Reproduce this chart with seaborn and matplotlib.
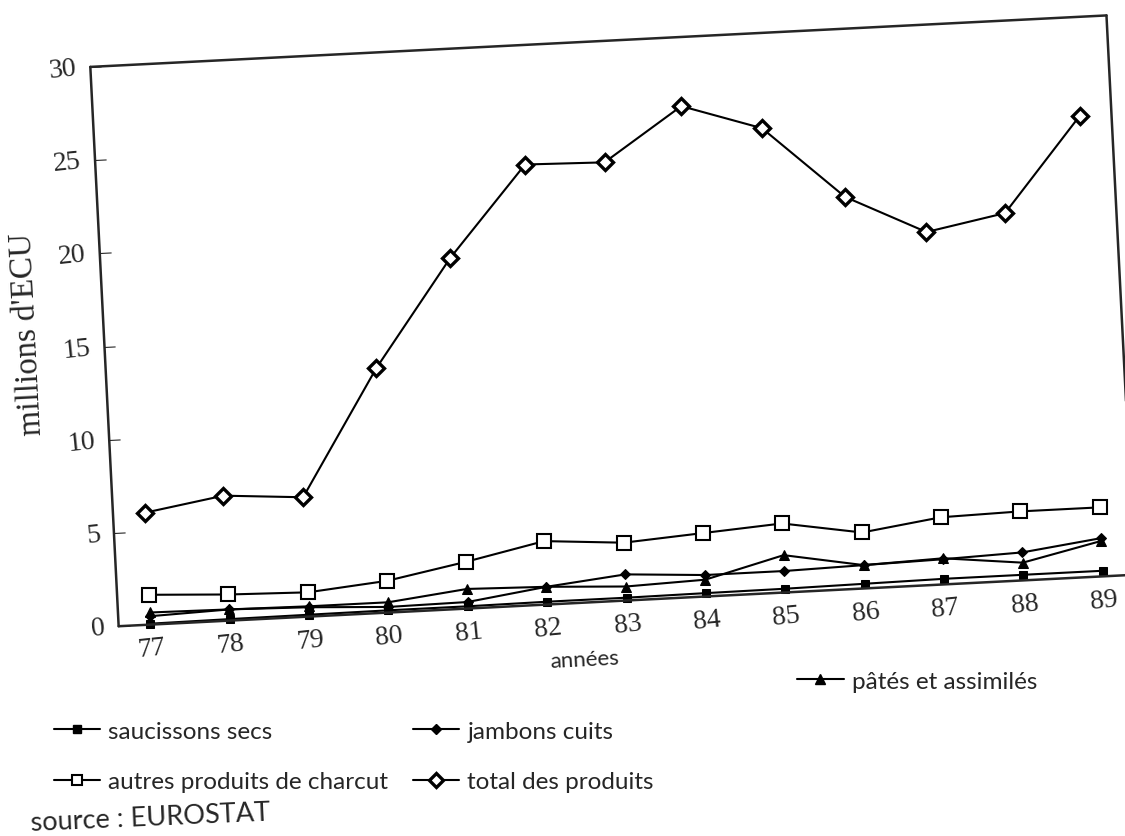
import matplotlib
matplotlib.use("Agg")
import matplotlib.pyplot as plt
import numpy as np
import pandas as pd
import seaborn as sns
from matplotlib.lines import Line2D
from matplotlib.transforms import Affine2D
from mpl_toolkits.axisartist import floating_axes
from mpl_toolkits.axisartist.grid_finder import FixedLocator, DictFormatter

# Exportations de charcuterie, millions d'ECU
annees = [77, 78, 79, 80, 81, 82, 83, 84, 85, 86, 87, 88, 89]
saucissons_secs = [0.05, 0.08, 0.1, 0.12, 0.12, 0.15, 0.15, 0.18, 0.2, 0.25, 0.3, 0.3, 0.3]
jambons_cuits = [0.45, 0.6, 0.5, 0.3, 0.35, 0.95, 1.4, 1.15, 1.15, 1.25, 1.35, 1.5, 2.05]
pates_assimiles = [0.65, 0.6, 0.55, 0.55, 1.05, 0.95, 0.75, 0.9, 2.0, 1.25, 1.4, 0.95, 1.9]
autres_produits = [1.6, 1.4, 1.3, 1.7, 2.5, 3.4, 3.1, 3.4, 3.7, 3.0, 3.6, 3.7, 3.7]
total_produits = [6.0, 6.7, 6.4, 13.1, 18.8, 23.6, 23.5, 26.3, 24.9, 21.0, 18.9, 19.7, 24.7]

y_ticks = [0, 5, 10, 15, 20, 25, 30]
x_tick_labels = [str(a) for a in annees]

labels = {
    "saucissons": "saucissons secs",
    "jambons": "jambons cuits",
    "pates": "pâtés et assimilés",
    "autres": "autres produits de charcut",
    "total": "total des produits",
}

sns.set_style("white")
plt.rcParams["font.family"] = ["Liberation Serif", "DejaVu Sans"]

fig = plt.figure(figsize=(11.25, 8.37), dpi=100)

# The plot frame is slightly tilted, as on the printed page
TILT = 2.9
tr = Affine2D().scale(79.2, 18.6).rotate_deg(TILT)
grid_helper = floating_axes.GridHelperCurveLinear(
    tr,
    extremes=(76.6, 89.4, 0, 30),
    grid_locator1=FixedLocator(annees),
    tick_formatter1=DictFormatter(dict(zip(annees, x_tick_labels))),
    grid_locator2=FixedLocator(y_ticks),
    tick_formatter2=DictFormatter({v: str(v) for v in y_ticks}),
)
ax = fig.add_axes([0.071, 0.239, 0.947, 0.753],
                  axes_class=floating_axes.FloatingAxes, grid_helper=grid_helper)
aux = ax.get_aux_axes(tr)

for name in ["left", "right", "top", "bottom"]:
    ax.axis[name].line.set_linewidth(1.8)
for name in ["right", "top"]:
    ax.axis[name].major_ticks.set_visible(False)
    ax.axis[name].major_ticklabels.set_visible(False)

ax.axis["bottom"].major_ticks.set_visible(False)
ax.axis["left"].major_ticks.set_ticksize(8)
ax.axis["left"].major_ticks.set_tick_out(False)

for name in ["left", "bottom"]:
    tl = ax.axis[name].major_ticklabels
    tl.set_fontsize(20)
    tl.set_fontfamily("Liberation Serif")
ax.axis["bottom"].major_ticklabels.set_rotation(TILT)
ax.axis["left"].major_ticklabels.set_rotation(90 + TILT)
ax.axis["left"].major_ticklabels.set_pad(10)
ax.axis["bottom"].major_ticklabels.set_pad(9)

ax.axis["left"].label.set_visible(False)
ax.axis["bottom"].label.set_visible(False)

styles = {
    "saucissons": dict(marker="s", markersize=6, markerfacecolor="black", markeredgecolor="black"),
    "jambons": dict(marker="D", markersize=5.5, markerfacecolor="black", markeredgecolor="black"),
    "pates": dict(marker="^", markersize=7.5, markerfacecolor="black", markeredgecolor="black"),
    "autres": dict(marker="s", markersize=10, markerfacecolor="white", markeredgecolor="black",
                   markeredgewidth=1.5),
    "total": dict(marker="D", markersize=8.5, markerfacecolor="white", markeredgecolor="black",
                  markeredgewidth=2.4),
}
values = {
    "saucissons": saucissons_secs,
    "jambons": jambons_cuits,
    "pates": pates_assimiles,
    "autres": autres_produits,
    "total": total_produits,
}

for key in ["saucissons", "jambons", "pates", "autres", "total"]:
    df = pd.DataFrame({"annee": annees, "valeur": values[key]})
    sns.lineplot(data=df, x="annee", y="valeur", ax=aux, color="black",
                 linewidth=1.5, legend=False, **styles[key])
aux.set_xlabel("")
aux.set_ylabel("")

# Axis titles, tilted with the frame
fig.text(28 / 1125, 1 - 334 / 837, "millions d'ECU", rotation=90 + TILT,
         fontsize=23.5, family="Liberation Serif", ha="center", va="center")
fig.text(585 / 1125, 1 - 660 / 837, "années", rotation=TILT, fontsize=16,
         family="Lato", ha="center", va="center")


def handle(key):
    st = dict(styles[key])
    if key in ("autres", "total"):
        st["markersize"] = 7.5
    return Line2D([], [], color="black", linewidth=1.5, **st)


legend_font = {"family": "Lato", "size": 17.5}
order = ["saucissons", "autres", "jambons", "total"]
fig.legend([handle(k) for k in order], [labels[k] for k in order],
           ncol=2, loc="upper left", bbox_to_anchor=(0.037, 0.152),
           frameon=False, prop=legend_font, handlelength=1.9,
           handletextpad=0.35, columnspacing=1.0, labelspacing=1.2,
           borderpad=0)
fig.legend([handle("pates")], [labels["pates"]],
           loc="upper left", bbox_to_anchor=(0.698, 0.212),
           frameon=False, prop=legend_font, handlelength=1.9,
           handletextpad=0.35, borderpad=0)

fig.text(0.027, 0.022, "source : EUROSTAT", rotation=2.5, fontsize=19.5,
         family="Lato", va="center", ha="left")

fig.savefig("out.png", dpi=100, facecolor="white")
